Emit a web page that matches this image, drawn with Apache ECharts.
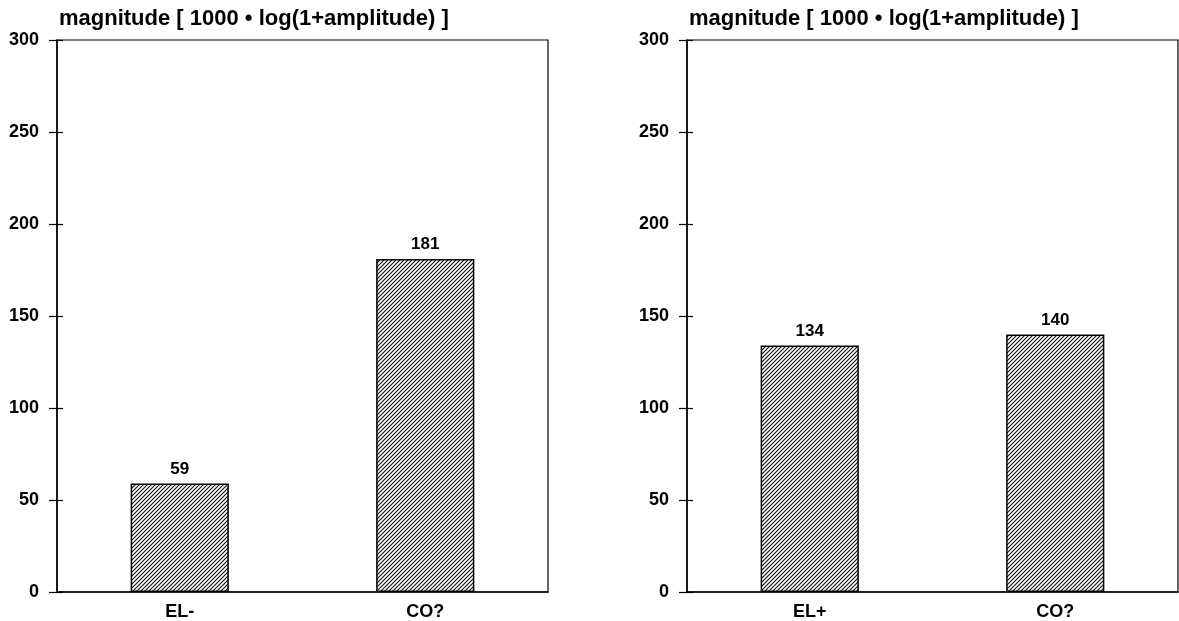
<!DOCTYPE html>
<html><head><meta charset="utf-8">
<script src="https://cdn.jsdelivr.net/npm/echarts@6/dist/echarts.min.js"></script>
<style>html,body{margin:0;padding:0;background:#fff}#c{width:1179px;height:621px}</style>
</head><body><div id="c"></div>
<script>
const yTitle = 'magnitude [ 1000 \u2022 log(1+amplitude) ]';
const leftCategories = ['EL-', 'CO?'];
const leftValues = [59, 181];
const rightCategories = ['EL+', 'CO?'];
const rightValues = [134, 140];
const yMin = 0, yMax = 300, yStep = 50;

function hatch() {
  const s = 4;
  const c = document.createElement('canvas');
  c.width = s; c.height = s;
  const g = c.getContext('2d');
  g.fillStyle = '#fff'; g.fillRect(0, 0, s, s);
  g.strokeStyle = '#111'; g.lineWidth = 1.1;
  g.beginPath();
  g.moveTo(0, s); g.lineTo(s, 0);
  g.moveTo(-1, 1); g.lineTo(1, -1);
  g.moveTo(s - 1, s + 1); g.lineTo(s + 1, s - 1);
  g.stroke();
  return c;
}
const pat = { image: hatch(), repeat: 'repeat' };
const font = 'Liberation Sans, Arial, sans-serif';

function xAx(i, cats) {
  return {
    type: 'category', gridIndex: i, data: cats,
    axisLine: { lineStyle: { color: '#000', width: 1.5 } },
    axisTick: { show: false },
    axisLabel: { color: '#000', fontWeight: 'bold', fontSize: 18, fontFamily: font, margin: 11 }
  };
}
function yAx(i) {
  return {
    type: 'value', gridIndex: i, min: yMin, max: yMax, interval: yStep,
    name: yTitle, nameLocation: 'end', nameGap: 10,
    nameTextStyle: { color: '#000', fontWeight: 'bold', fontSize: 22, fontFamily: font, align: 'left', padding: [0, 0, 0, 2] },
    axisLine: { show: true, lineStyle: { color: '#000', width: 1.5 } },
    axisTick: { show: true, length: 8, lineStyle: { color: '#000', width: 1.2 } },
    splitLine: { show: false },
    axisLabel: { color: '#000', fontWeight: 'bold', fontSize: 18, fontFamily: font, margin: 18 }
  };
}
function yAxInner(i) {
  return {
    type: 'value', gridIndex: i, min: yMin, max: yMax, interval: yStep, position: 'left',
    axisLine: { show: false },
    axisTick: { show: true, inside: true, length: 6, lineStyle: { color: '#000', width: 1.2 } },
    splitLine: { show: false },
    axisLabel: { show: false }
  };
}
function bars(i, vals) {
  return {
    type: 'bar', xAxisIndex: i, yAxisIndex: i, data: vals, barWidth: '40%',
    itemStyle: { color: pat, borderColor: '#000', borderWidth: 1.5 },
    label: { show: true, position: 'top', color: '#000', fontWeight: 'bold', fontSize: 17, fontFamily: font, distance: 6 }
  };
}
const chart = echarts.init(document.getElementById('c'), null, { renderer: 'canvas' });
chart.setOption({
  animation: false,
  backgroundColor: '#fff',
  grid: [
    { left: 57, right: 631, top: 40, bottom: 29, show: true, borderColor: '#000', borderWidth: 1.2, backgroundColor: 'transparent' },
    { left: 687, right: 1, top: 40, bottom: 29, show: true, borderColor: '#000', borderWidth: 1.2, backgroundColor: 'transparent' }
  ],
  xAxis: [xAx(0, leftCategories), xAx(1, rightCategories)],
  yAxis: [yAx(0), yAx(1), yAxInner(0), yAxInner(1)],
  series: [bars(0, leftValues), bars(1, rightValues)]
});
</script></body></html>
